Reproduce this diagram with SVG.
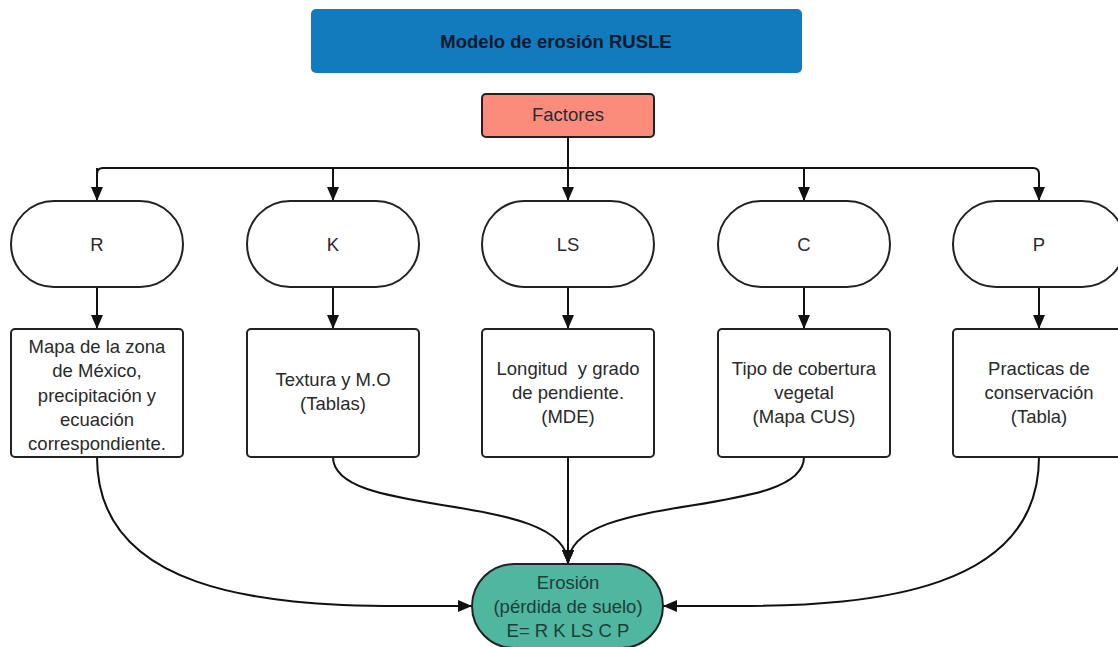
<svg xmlns="http://www.w3.org/2000/svg" width="1118" height="647" viewBox="0 0 1118 647">
  <style>
    text { font-family: "Liberation Sans", Arial, sans-serif; font-size: 18.5px; fill: #2a2a2a; text-anchor: middle; }
    .title { font-weight: bold; font-size: 18.5px; fill: #0d1a2b; }
    .shape { fill: #ffffff; stroke: #222; stroke-width: 2; }
    .conn { fill: none; stroke: #111; stroke-width: 2; }
    .eros { fill: #1f3d38; }
  </style>
  <defs>
    <marker id="arrow" viewBox="0 0 14 12" refX="14" refY="6" markerWidth="14" markerHeight="12" orient="auto" markerUnits="userSpaceOnUse">
      <path d="M0,0 L14,6 L0,12 z" fill="#111"/>
    </marker>
  </defs>

  <rect width="1118" height="647" fill="#ffffff"/>

  <!-- header -->
  <g id="title">
    <rect x="311" y="9" width="491" height="64" rx="5" fill="#127bbd"/>
    <text class="title" x="556" y="48">Modelo de erosión RUSLE</text>
  </g>

  <g id="factores">
    <rect x="482" y="94" width="172" height="43" rx="4" fill="#fb8c7c" stroke="#222" stroke-width="2"/>
    <text x="568" y="121">Factores</text>
  </g>

  <!-- connectors -->
  <g id="connectors">
    <path class="conn" d="M568,137 V168"/>
    <path class="conn" d="M97,201 V174 Q97,168 103,168 H1033 Q1039,168 1039,174 V201" marker-end="url(#arrow)"/>
    <path class="conn" d="M97,168 V201" marker-end="url(#arrow)"/>
    <path class="conn" d="M333,168 V201" marker-end="url(#arrow)"/>
    <path class="conn" d="M568,168 V201" marker-end="url(#arrow)"/>
    <path class="conn" d="M804,168 V201" marker-end="url(#arrow)"/>

    <path class="conn" d="M97,287 V329" marker-end="url(#arrow)"/>
    <path class="conn" d="M333,287 V329" marker-end="url(#arrow)"/>
    <path class="conn" d="M568,287 V329" marker-end="url(#arrow)"/>
    <path class="conn" d="M804,287 V329" marker-end="url(#arrow)"/>
    <path class="conn" d="M1039,287 V329" marker-end="url(#arrow)"/>

    <path class="conn" d="M97,457 C97,590 260,606 400,606 L472,606" marker-end="url(#arrow)"/>
    <path class="conn" d="M333,457 C333,520 568,490 568,564" marker-end="url(#arrow)"/>
    <path class="conn" d="M568,457 V564" marker-end="url(#arrow)"/>
    <path class="conn" d="M804,457 C804,520 568,490 568,564" marker-end="url(#arrow)"/>
    <path class="conn" d="M1039,457 C1039,590 876,606 736,606 L663,606" marker-end="url(#arrow)"/>
  </g>

  <!-- factor terminators -->
  <g id="node-R">
    <rect class="shape" x="11" y="201" width="172" height="86" rx="43"/>
    <text x="97" y="251">R</text>
  </g>
  <g id="node-K">
    <rect class="shape" x="247" y="201" width="172" height="86" rx="43"/>
    <text x="333" y="251">K</text>
  </g>
  <g id="node-LS">
    <rect class="shape" x="482" y="201" width="172" height="86" rx="43"/>
    <text x="568" y="251">LS</text>
  </g>
  <g id="node-C">
    <rect class="shape" x="718" y="201" width="172" height="86" rx="43"/>
    <text x="804" y="251">C</text>
  </g>
  <g id="node-P">
    <rect class="shape" x="953" y="201" width="172" height="86" rx="43"/>
    <text x="1039" y="251">P</text>
  </g>

  <!-- data sources -->
  <g id="src-R">
    <rect class="shape" x="11" y="329" width="172" height="128" rx="4"/>
    <text x="97" y="353">Mapa de la zona</text>
    <text x="97" y="377">de México,</text>
    <text x="97" y="402">precipitación y</text>
    <text x="97" y="426">ecuación</text>
    <text x="97" y="450">correspondiente.</text>
  </g>
  <g id="src-K">
    <rect class="shape" x="247" y="329" width="172" height="128" rx="4"/>
    <text x="333" y="386">Textura y M.O</text>
    <text x="333" y="410">(Tablas)</text>
  </g>
  <g id="src-LS">
    <rect class="shape" x="482" y="329" width="172" height="128" rx="4"/>
    <text x="568" y="375" style="white-space:pre">Longitud  y grado</text>
    <text x="568" y="399">de pendiente.</text>
    <text x="568" y="423">(MDE)</text>
  </g>
  <g id="src-C">
    <rect class="shape" x="718" y="329" width="172" height="128" rx="4"/>
    <text x="804" y="375">Tipo de cobertura</text>
    <text x="804" y="399">vegetal</text>
    <text x="804" y="423">(Mapa CUS)</text>
  </g>
  <g id="src-P">
    <rect class="shape" x="953" y="329" width="172" height="128" rx="4"/>
    <text x="1039" y="375">Practicas de</text>
    <text x="1039" y="399">conservación</text>
    <text x="1039" y="423">(Tabla)</text>
  </g>

  <!-- result -->
  <g id="erosion">
    <rect x="472" y="564" width="191" height="84" rx="42" fill="#4fb6a0" stroke="#222" stroke-width="2"/>
    <text class="eros" x="568" y="589">Erosión</text>
    <text class="eros" x="568" y="613">(pérdida de suelo)</text>
    <text class="eros" x="568" y="637">E= R K LS C P</text>
  </g>
</svg>
